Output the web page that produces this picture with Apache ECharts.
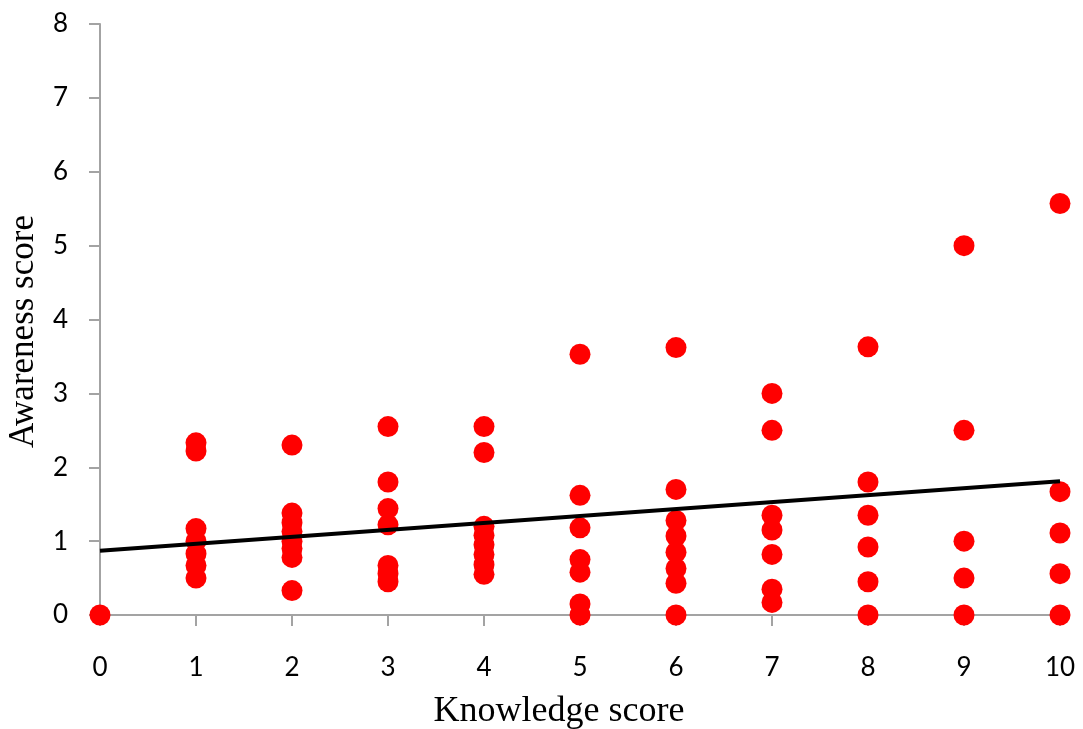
<!DOCTYPE html>
<html>
<head>
<meta charset="utf-8">
<script src="https://cdn.jsdelivr.net/npm/echarts@6/dist/echarts.min.js"></script>
<style>
  html, body { margin: 0; padding: 0; background: #fff; }
  #chart { width: 1083px; height: 729px; }
</style>
</head>
<body>
<div id="chart"></div>
<script>
// knowledge score (x) per group, awareness scores (y)
var knowledge = [0, 1, 2, 3, 4, 5, 6, 7, 8, 9, 10];
var awareness = [
    [0],
    [2.33, 2.22, 1.17, 1.0, 0.83, 0.67, 0.5],
    [2.3, 1.38, 1.25, 1.13, 1.0, 0.9, 0.78, 0.33],
    [2.55, 1.8, 1.44, 1.22, 0.67, 0.56, 0.45],
    [2.55, 2.2, 1.2, 1.08, 0.95, 0.82, 0.68, 0.55],
    [3.53, 1.62, 1.18, 0.75, 0.58, 0.15, 0],
    [3.62, 1.7, 1.28, 1.07, 0.85, 0.63, 0.43, 0],
    [3.0, 2.5, 1.35, 1.15, 0.82, 0.35, 0.17],
    [3.63, 1.8, 1.35, 0.92, 0.45, 0],
    [5.0, 2.5, 1.0, 0.5, 0],
    [5.57, 1.67, 1.11, 0.56, 0]
];
// trend line end points
var trendX = [0, 10];
var trendY = [0.87, 1.81];

var xTicks = [0, 1, 2, 3, 4, 5, 6, 7, 8, 9, 10];
var yTicks = [0, 1, 2, 3, 4, 5, 6, 7, 8];

var points = [];
knowledge.forEach(function(k, i){
    awareness[i].forEach(function(v){
        points.push([k, v]);
    });
});
var trend = trendX.map(function(x, i){ return [x, trendY[i]]; });

var axisGray = '#a3a3a3';
var option = {
    animation: false,
    grid: { left: 100, right: 23, top: 24, bottom: 114, outerBoundsMode: 'none', containLabel: false },
    xAxis: {
        type: 'value',
        min: xTicks[0],
        max: xTicks[xTicks.length - 1],
        interval: 1,
        name: 'Knowledge score',
        nameLocation: 'middle',
        nameGap: 79,
        // title sits a bit left of the axis middle
        nameTextStyle: { fontFamily: 'Liberation Serif', fontSize: 36, color: '#000', padding: [0, 42, 0, 0] },
        axisLine: { show: true, lineStyle: { color: axisGray, width: 2 } },
        axisTick: { show: true, length: 11, lineStyle: { color: axisGray, width: 2 } },
        axisLabel: { margin: 40, fontFamily: 'Lato', fontSize: 26, color: '#000' },
        splitLine: { show: false }
    },
    yAxis: {
        type: 'value',
        min: yTicks[0],
        max: yTicks[yTicks.length - 1],
        interval: 1,
        name: 'Awareness score',
        nameLocation: 'middle',
        nameGap: 59,
        nameTextStyle: { fontFamily: 'Liberation Serif', fontSize: 35, color: '#000', padding: [0, 24, 0, 0] },
        axisLine: { show: true, lineStyle: { color: axisGray, width: 2 } },
        axisTick: { show: true, length: 11, lineStyle: { color: axisGray, width: 2 } },
        axisLabel: { margin: 32, fontFamily: 'Lato', fontSize: 26, color: '#000' },
        splitLine: { show: false }
    },
    series: [
        {
            type: 'scatter',
            data: points,
            symbolSize: 21,
            itemStyle: { color: '#ff0000', opacity: 1 },
            z: 2
        },
        {
            type: 'line',
            data: trend,
            showSymbol: false,
            lineStyle: { color: '#000', width: 4 },
            z: 3
        }
    ]
};

var chart = echarts.init(document.getElementById('chart'), null, { renderer: 'canvas' });
chart.setOption(option);
</script>
</body>
</html>
